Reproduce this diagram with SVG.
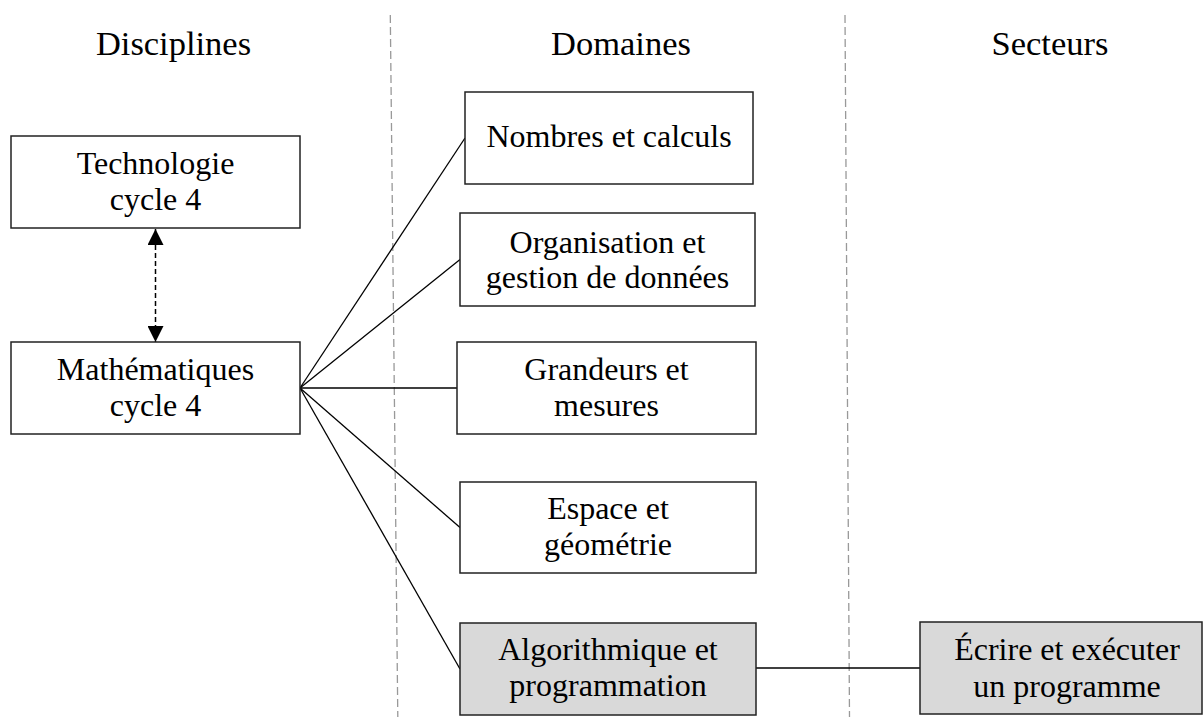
<svg xmlns="http://www.w3.org/2000/svg" width="1203" height="717" viewBox="0 0 1203 717">
<style>
  text { font-family: "Liberation Serif", "DejaVu Serif", serif; fill: #000; text-anchor: middle; }
  .hdr { font-size: 34.5px; }
  .lbl { font-size: 32px; }
  .box { fill: #fff; stroke: #222; stroke-width: 1.5; }
  .sel { fill: #d9d9d9; stroke: #222; stroke-width: 1.5; }
  .sep { stroke: #999; stroke-width: 1.3; stroke-dasharray: 8 4; fill: none; }
  .con { stroke: #000; stroke-width: 1.3; fill: none; }
  .dash { stroke: #000; stroke-width: 1.5; stroke-dasharray: 5 3; fill: none; }
</style>
<defs>
  <marker id="ah" viewBox="0 0 16 16" refX="16" refY="8" markerWidth="16" markerHeight="16" markerUnits="userSpaceOnUse" orient="auto-start-reverse">
    <path d="M0,0 L16,8 L0,16 Z" fill="#000"/>
  </marker>
</defs>
<rect width="1203" height="717" fill="#fff"/>

<g id="separators">
  <line class="sep" x1="390.3" y1="15" x2="397.8" y2="717"/>
  <line class="sep" x1="845" y1="15" x2="849.5" y2="717"/>
</g>

<g id="headers">
  <text class="hdr" x="173.5" y="55">Disciplines</text>
  <text class="hdr" x="621" y="55">Domaines</text>
  <text class="hdr" x="1050" y="55">Secteurs</text>
</g>

<g id="connectors">
  <line class="dash" x1="155.5" y1="229" x2="155.5" y2="342" marker-start="url(#ah)" marker-end="url(#ah)"/>
  <line class="con" x1="300" y1="388" x2="465" y2="138"/>
  <line class="con" x1="300" y1="388" x2="460" y2="259.5"/>
  <line class="con" x1="300" y1="388" x2="457" y2="388"/>
  <line class="con" x1="300" y1="388" x2="460" y2="527.5"/>
  <line class="con" x1="300" y1="388" x2="460" y2="669"/>
  <line class="con" x1="756" y1="668" x2="920" y2="668"/>
</g>

<g id="technologie">
  <rect class="box" x="11" y="136" width="289" height="92"/>
  <text class="lbl" x="155.5" y="174">Technologie</text>
  <text class="lbl" x="155.5" y="210">cycle 4</text>
</g>

<g id="mathematiques">
  <rect class="box" x="11" y="342" width="289" height="92"/>
  <text class="lbl" x="155.5" y="380">Mathématiques</text>
  <text class="lbl" x="155.5" y="416">cycle 4</text>
</g>

<g id="nombres">
  <rect class="box" x="465" y="92" width="288" height="92"/>
  <text class="lbl" x="609" y="147">Nombres et calculs</text>
</g>

<g id="organisation">
  <rect class="box" x="460" y="213" width="295" height="93"/>
  <text class="lbl" x="607.5" y="253">Organisation et</text>
  <text class="lbl" x="607.5" y="288">gestion de données</text>
</g>

<g id="grandeurs">
  <rect class="box" x="457" y="342" width="299" height="92"/>
  <text class="lbl" x="606.5" y="380">Grandeurs et</text>
  <text class="lbl" x="606.5" y="416">mesures</text>
</g>

<g id="espace">
  <rect class="box" x="460" y="482" width="296" height="91"/>
  <text class="lbl" x="608" y="519">Espace et</text>
  <text class="lbl" x="608" y="555">géométrie</text>
</g>

<g id="algorithmique">
  <rect class="sel" x="460" y="623" width="296" height="92"/>
  <text class="lbl" x="608" y="660">Algorithmique et</text>
  <text class="lbl" x="608" y="696">programmation</text>
</g>

<g id="ecrire">
  <rect class="sel" x="920" y="622" width="282" height="92"/>
  <text class="lbl" x="1067" y="660">Écrire et exécuter</text>
  <text class="lbl" x="1067" y="697">un programme</text>
</g>
</svg>
